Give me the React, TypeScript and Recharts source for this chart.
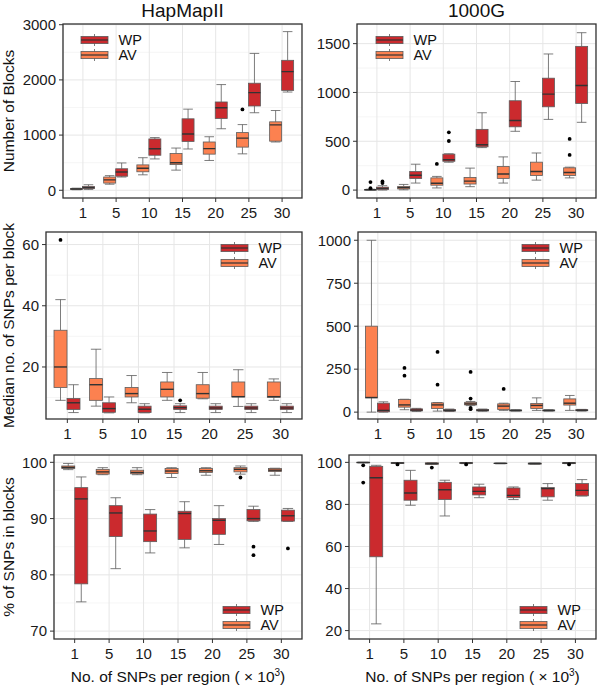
import React from "react";
import { BarChart, Bar, XAxis, YAxis, CartesianGrid, Legend } from "recharts";

const FONT = "'Liberation Sans', Arial, Helvetica, sans-serif";
const CATEGORIES = ["1", "5", "10", "15", "20", "25", "30"];
const SERIES_NAMES = ["WP", "AV"];
const COLOR_WP = "#CB2A2E";
const COLOR_AV = "#FC8150";
const COLUMN_TITLES = ["HapMapII", "1000G"];
const ROW_TITLES = ["Number of Blocks", "Median no. of SNPs per block", "% of SNPs in blocks"];

// each box: [lower whisker, Q1, median, Q3, upper whisker]
const HAP_BLOCKS_AV = [
  [10, 18, 24, 30, 38],
  [110, 130, 188, 240, 265],
  [280, 335, 400, 460, 590],
  [365, 465, 500, 665, 765],
  [540, 655, 755, 875, 970],
  [660, 782, 945, 1045, 1190],
  [875, 890, 1185, 1240, 1445],
];
const HAP_BLOCKS_AV_OUT = [[], [], [], [], [], [1465], []];
const HAP_BLOCKS_WP = [
  [15, 30, 48, 70, 100],
  [240, 255, 330, 390, 495],
  [568, 635, 752, 930, 955],
  [748, 885, 1020, 1295, 1470],
  [1115, 1300, 1495, 1600, 1915],
  [1405, 1527, 1770, 1940, 2480],
  [1780, 1810, 2150, 2355, 2875],
];
const HAP_BLOCKS_WP_OUT = [[], [], [], [], [], [], []];

const G1K_BLOCKS_AV = [
  [0, 1, 3, 5, 9],
  [3, 12, 25, 38, 58],
  [22, 50, 70, 125, 140],
  [35, 62, 92, 130, 225],
  [72, 120, 165, 242, 340],
  [102, 150, 190, 286, 380],
  [125, 150, 180, 228, 235],
];
const G1K_BLOCKS_AV_OUT = [[20, 82], [], [268], [], [], [], [360, 524]];
const G1K_BLOCKS_WP = [
  [0, 5, 18, 30, 45],
  [72, 118, 152, 190, 265],
  [285, 295, 310, 368, 372],
  [435, 443, 465, 622, 792],
  [602, 648, 712, 915, 1112],
  [724, 853, 983, 1146, 1394],
  [694, 887, 1071, 1472, 1612],
];
const G1K_BLOCKS_WP_OUT = [[72, 88], [], [503, 592], [], [], [], []];

const HAP_SIZE_AV = [
  [9.1, 13.3, 20, 32, 42],
  [7.2, 9.1, 14.2, 16.2, 25.8],
  [8.3, 10.2, 11.3, 13.3, 17.2],
  [9.1, 10.2, 12.7, 15.1, 18.2],
  [9.6, 9.8, 11.3, 14.2, 18.2],
  [7.1, 10.2, 10.3, 15.1, 19.1],
  [9.1, 10.1, 10.3, 15.1, 16.1],
];
const HAP_SIZE_AV_OUT = [[61.5], [], [], [], [], [], []];
const HAP_SIZE_WP = [
  [5.1, 6.1, 8.3, 9.7, 14.2],
  [5.0, 5.2, 6.4, 8.3, 10.2],
  [5.0, 5.1, 6.2, 7.2, 8.0],
  [5.1, 6.1, 6.7, 7.3, 8.0],
  [5.1, 6.1, 6.6, 7.2, 8.0],
  [5.1, 6.1, 6.6, 7.2, 8.0],
  [5.1, 6.1, 6.6, 7.2, 8.0],
];
const HAP_SIZE_WP_OUT = [[], [], [], [9.1], [], [], []];

const G1K_SIZE_AV = [
  [0, 83, 85, 500, 1000],
  [14, 29, 42, 73, 75],
  [6, 21, 42, 54, 56],
  [38, 42, 48, 57, 62],
  [10, 15, 35, 48, 52],
  [10, 21, 39, 50, 83],
  [10, 41, 52, 77, 97],
];
const G1K_SIZE_AV_OUT = [[], [212, 257], [160, 350], [17, 25, 79, 234], [135], [], []];
const G1K_SIZE_WP = [
  [0, 2, 10, 52, 60],
  [4, 7, 12, 19, 22],
  [4, 6, 10, 15, 18],
  [5, 7, 11, 15, 18],
  [6, 7, 10, 12, 14],
  [6, 7, 10, 12, 14],
  [6, 8, 11, 14, 16],
];
const G1K_SIZE_WP_OUT = [[], [], [], [], [], [], []];

const HAP_PCT_AV = [
  [98.7, 98.9, 99.1, 99.35, 99.8],
  [97.8, 97.9, 98.3, 98.75, 99.05],
  [97.8, 97.95, 98.2, 98.6, 99.05],
  [97.3, 98.0, 98.45, 98.9, 99.05],
  [97.7, 98.2, 98.5, 98.9, 99.05],
  [97.9, 98.3, 98.75, 99.05, 99.35],
  [97.7, 98.35, 98.6, 98.9, 98.95],
];
const HAP_PCT_AV_OUT = [[], [], [], [], [], [97.3], []];
const HAP_PCT_WP = [
  [75.2, 78.4, 93.5, 95.5, 97.4],
  [81.1, 86.8, 91.0, 92.3, 93.7],
  [83.9, 85.9, 87.8, 90.8, 91.6],
  [84.8, 86.3, 90.9, 91.3, 93.0],
  [85.4, 87.2, 89.7, 90.0, 92.3],
  [89.5, 89.6, 90.0, 91.6, 92.2],
  [89.5, 89.55, 90.5, 91.5, 91.8],
];
const HAP_PCT_WP_OUT = [[], [], [], [], [], [83.5, 85.0], [84.7]];

const G1K_PCT_AV = [
  [99.8, 99.85, 99.9, 100, 100.05],
  [99.5, 99.6, 99.7, 99.8, 99.9],
  [99.0, 99.1, 99.4, 99.8, 99.9],
  [99.4, 99.6, 99.7, 99.8, 99.9],
  [99.3, 99.4, 99.5, 99.6, 99.7],
  [99.1, 99.2, 99.45, 99.6, 99.7],
  [99.4, 99.5, 99.7, 99.8, 99.9],
];
const G1K_PCT_AV_OUT = [[90.4, 98.6], [99.0], [97.5], [99.0], [], [], [99.0]];
const G1K_PCT_WP = [
  [23.2, 55.1, 92.7, 98.1, 98.6],
  [79.6, 82.0, 85.4, 91.5, 96.2],
  [74.5, 82.3, 87.0, 90.5, 91.5],
  [83.2, 84.5, 86.2, 88.3, 89.6],
  [82.3, 83.2, 84.3, 87.8, 88.3],
  [82.0, 83.6, 87.5, 88.0, 89.9],
  [84.0, 84.1, 86.7, 89.9, 91.8],
];
const G1K_PCT_WP_OUT = [[], [], [], [], [], [], []];

type Row = { cat: string; av: number[]; wp: number[]; avOut: number[]; wpOut: number[] };

const buildRows = (av: number[][], avOut: number[][], wp: number[][], wpOut: number[][]): Row[] =>
  CATEGORIES.map((cat, i) => ({ cat, av: av[i], wp: wp[i], avOut: avOut[i], wpOut: wpOut[i] }));

const extent = (s: number[], o: number[]) => [Math.min(s[0], ...o), Math.max(s[4], ...o)];

const PANELS = [
  { L: 63, R: 302, T: 24, B: 198, domain: [-140, 3013], major: [0, 1000, 2000, 3000], minor: [500, 1500, 2500],
    rows: buildRows(HAP_BLOCKS_AV, HAP_BLOCKS_AV_OUT, HAP_BLOCKS_WP, HAP_BLOCKS_WP_OUT), legend: [81, 39.7] },
  { L: 357, R: 596, T: 24, B: 198, domain: [-81, 1701], major: [0, 500, 1000, 1500], minor: [250, 750, 1250],
    rows: buildRows(G1K_BLOCKS_AV, G1K_BLOCKS_AV_OUT, G1K_BLOCKS_WP, G1K_BLOCKS_WP_OUT), legend: [376, 39.7] },
  { L: 46, R: 302, T: 232, B: 419, domain: [3.0, 64.1], major: [20, 40, 60], minor: [10, 30, 50],
    rows: buildRows(HAP_SIZE_AV, HAP_SIZE_AV_OUT, HAP_SIZE_WP, HAP_SIZE_WP_OUT), legend: [221, 248.3] },
  { L: 358, R: 596, T: 232, B: 419, domain: [-40, 1048], major: [0, 250, 500, 750, 1000], minor: [125, 375, 625, 875],
    rows: buildRows(G1K_SIZE_AV, G1K_SIZE_AV_OUT, G1K_SIZE_WP, G1K_SIZE_WP_OUT), legend: [522, 248.3] },
  { L: 54, R: 302, T: 455, B: 639, domain: [68.6, 101.3], major: [70, 80, 90, 100], minor: [75, 85, 95],
    rows: buildRows(HAP_PCT_AV, HAP_PCT_AV_OUT, HAP_PCT_WP, HAP_PCT_WP_OUT), legend: [223, 609.5] },
  { L: 349, R: 596, T: 455, B: 639, domain: [16, 103.5], major: [20, 40, 60, 80, 100], minor: [30, 50, 70, 90],
    rows: buildRows(G1K_PCT_AV, G1K_PCT_AV_OUT, G1K_PCT_WP, G1K_PCT_WP_OUT), legend: [520, 609.5] },
];

const YW = 60;
const XH = 30;
const MT = 12;
const EDGE = "#5c5c5c";

function makeBoxShape(series: "av" | "wp", rows: Row[]) {
  return (props: any) => {
    const { x, y, width, height, index } = props;
    const row: Row = (props.payload && props.payload[series]) ? props.payload : rows[index];
    const s = row[series];
    const out = series === "av" ? row.avOut : row.wpOut;
    const [rlo, rhi] = extent(s, out);
    const top = Math.min(y, y + height);
    const bot = Math.max(y, y + height);
    const py = (v: number) => (rhi === rlo ? bot : bot - ((v - rlo) / (rhi - rlo)) * (bot - top));
    const cx = x + width / 2;
    const capW = width * 0.8;
    const fill = series === "av" ? COLOR_AV : COLOR_WP;
    const q3 = py(s[3]);
    const q1 = py(s[1]);
    return (
      <g>
        <line x1={cx} x2={cx} y1={py(s[4])} y2={q3} stroke={EDGE} strokeWidth={0.8} />
        <line x1={cx} x2={cx} y1={q1} y2={py(s[0])} stroke={EDGE} strokeWidth={0.8} />
        <line x1={cx - capW / 2} x2={cx + capW / 2} y1={py(s[4])} y2={py(s[4])} stroke={EDGE} strokeWidth={0.8} />
        <line x1={cx - capW / 2} x2={cx + capW / 2} y1={py(s[0])} y2={py(s[0])} stroke={EDGE} strokeWidth={0.8} />
        <rect x={x} y={q3} width={width} height={Math.max(q1 - q3, 0.3)} fill={fill} stroke={EDGE} strokeWidth={0.8} />
        <line x1={x} x2={x + width} y1={py(s[2])} y2={py(s[2])} stroke="#333" strokeWidth={1.4} />
        {out.map((o, k) => (
          <circle key={k} cx={cx} cy={py(o)} r={1.9} fill="#000" />
        ))}
      </g>
    );
  };
}

function LegendKeys() {
  const colors = [COLOR_WP, COLOR_AV];
  return (
    <svg width={80} height={34} style={{ display: "block", overflow: "visible" }}>
      {SERIES_NAMES.map((name, i) => {
        const cy = 6 + i * 15;
        return (
          <g key={name}>
            <line x1={13.5} x2={13.5} y1={cy - 6} y2={cy + 6} stroke={EDGE} strokeWidth={0.8} />
            <rect x={0} y={cy - 3.6} width={27} height={7.2} fill={colors[i]} stroke={EDGE} strokeWidth={0.8} />
            <line x1={0} x2={27} y1={cy} y2={cy} stroke="#333" strokeWidth={1.2} />
            <text x={37.5} y={cy + 5.2} fontSize={14.5} fontFamily={FONT} fill="#111">{name}</text>
          </g>
        );
      })}
    </svg>
  );
}

function Panel({ p }: { p: (typeof PANELS)[number] }) {
  const w = YW + (p.R - p.L);
  const h = p.B - p.T + XH + MT;
  const unit = (p.R - p.L) / 7.2;
  const pad = unit * 0.1;
  const left = p.L - YW;
  const top = p.T - MT;
  return (
    <div style={{ position: "absolute", left, top }}>
      <BarChart width={w} height={h} data={p.rows} margin={{ top: MT, right: 0, bottom: 0, left: 0 }}
        barCategoryGap="12.5%" barGap={0}>
        <CartesianGrid stroke="#F1F1F1" strokeWidth={0.7} horizontalValues={p.minor} vertical={false} />
        <CartesianGrid stroke="#E6E6E6" strokeWidth={1} horizontalValues={p.major} />
        <XAxis dataKey="cat" type="category" padding={{ left: pad, right: pad }} height={XH} interval={0}
          tickSize={4} tickMargin={5} axisLine={false} tickLine={{ stroke: "#333" }}
          tick={{ fontSize: 15, fill: "#1a1a1a", fontFamily: FONT }} />
        <YAxis type="number" domain={p.domain} ticks={p.major} allowDataOverflow width={YW} interval={0}
          tickSize={4} tickMargin={3} axisLine={false} tickLine={{ stroke: "#333" }}
          tick={{ fontSize: 15, fill: "#1a1a1a", fontFamily: FONT }} />
        <Bar dataKey={(r: Row) => extent(r.av, r.avOut)} name="AV" fill={COLOR_AV} isAnimationActive={false}
          shape={makeBoxShape("av", p.rows)} />
        <Bar dataKey={(r: Row) => extent(r.wp, r.wpOut)} name="WP" fill={COLOR_WP} isAnimationActive={false}
          shape={makeBoxShape("wp", p.rows)} />
        <Legend layout="vertical" align="center" verticalAlign="middle" content={() => <LegendKeys />}
          wrapperStyle={{ left: p.legend[0] - left, top: p.legend[1] - 6 - top, width: 80, height: 34 }} />
      </BarChart>
    </div>
  );
}

export default function App() {
  return (
    <div style={{ position: "absolute", left: 0, top: 0, width: 600, height: 686, background: "#fff", fontFamily: FONT }}>
      {PANELS.map((p, i) => (
        <Panel key={i} p={p} />
      ))}
      <svg width={600} height={686} style={{ position: "absolute", left: 0, top: 0, pointerEvents: "none" }}>
        {PANELS.map((p, i) => (
          <rect key={i} x={p.L} y={p.T} width={p.R - p.L} height={p.B - p.T} fill="none" stroke="#333" strokeWidth={1.3} />
        ))}
        <text x={182.5} y={17} textAnchor="middle" fontSize={19} fontFamily={FONT} fill="#111">{COLUMN_TITLES[0]}</text>
        <text x={476.5} y={17} textAnchor="middle" fontSize={19} fontFamily={FONT} fill="#111">{COLUMN_TITLES[1]}</text>
        {[111, 325.5, 547].map((cy, i) => (
          <text key={i} x={13.5} y={cy} transform={`rotate(-90 13.5 ${cy})`} textAnchor="middle" fontSize={15.5}
            fontFamily={FONT} fill="#111">{ROW_TITLES[i]}</text>
        ))}
        {[178, 472.5].map((cx, i) => (
          <text key={i} x={cx} y={682} textAnchor="middle" fontSize={15.5} fontFamily={FONT} fill="#111">
            No. of SNPs per region ( × 10<tspan dy={-6} fontSize={10}>3</tspan><tspan dy={6}>)</tspan>
          </text>
        ))}
      </svg>
    </div>
  );
}
